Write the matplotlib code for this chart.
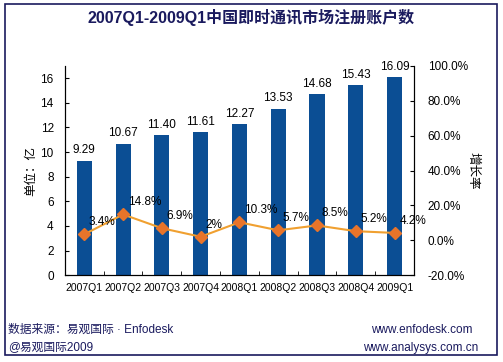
import matplotlib.pyplot as plt
import matplotlib.patches as patches
import numpy as np

plt.rcParams['font.family'] = ['Liberation Sans', 'Noto Sans CJK SC', 'DejaVu Sans']

quarters = ['2007Q1', '2007Q2', '2007Q3', '2007Q4', '2008Q1',
            '2008Q2', '2008Q3', '2008Q4', '2009Q1']
accounts = [9.29, 10.67, 11.40, 11.61, 12.27, 13.53, 14.68, 15.43, 16.09]
growth = [3.4, 14.8, 6.9, 2.0, 10.3, 5.7, 8.5, 5.2, 4.2]
growth_labels = ['3.4%', '14.8%', '6.9%', '2%', '10.3%', '5.7%', '8.5%', '5.2%', '4.2%']

fig = plt.figure(figsize=(5.03, 3.62), dpi=100)
ax = fig.add_axes([0.129, 0.240, 0.694, 0.578])
x = np.arange(len(quarters))

ax.bar(x, accounts, width=0.39, color='#0B4E94', zorder=2)
for xi, v in zip(x, accounts):
    ax.text(xi, v + 0.35, f'{v:.2f}', ha='center', va='bottom', fontsize=8.5)
ax.set_xlim(-0.5, len(quarters) - 0.5)
ax.set_ylim(0, 17)
ax.set_yticks(range(0, 17, 2))
ax.set_xticks(x)
ax.set_xticklabels(quarters, fontsize=7.5)
ax.set_xticks(np.arange(-0.5, len(quarters), 1), minor=True)
ax.tick_params(axis='x', which='major', length=0, pad=6)
ax.tick_params(axis='x', which='minor', direction='in', length=3)
ax.tick_params(axis='y', direction='in', length=3, labelsize=8.5, pad=8)
ax.set_ylabel('单位：亿', fontsize=9, labelpad=2)
ax.spines['top'].set_visible(False)

ax2 = ax.twinx()
ax2.plot(x, growth, color='#F0A030', lw=1.5, marker='D', markersize=6,
         markerfacecolor='#E8742A', markeredgecolor='#E8742A', zorder=3)
for xi, v, lab in zip(x, growth, growth_labels):
    ax2.text(xi + 0.12, v + 7, lab, ha='left', va='center', fontsize=8.5)
ax2.set_ylim(-20, 100)
ax2.set_yticks(range(-20, 101, 20))
ax2.set_yticklabels([f'{t:.1f}%' for t in range(-20, 101, 20)], fontsize=8.5)
ax2.tick_params(axis='y', direction='in', length=3, pad=10)
ax2.set_ylabel('增长率', fontsize=9, rotation=-90, labelpad=8)
ax2.spines['top'].set_visible(False)

fig.text(0.5, 0.953, '2007Q1-2009Q1中国即时通讯市场注册账户数', ha='center', va='center',
         fontsize=11.5, fontweight='bold', color='#1A1A5E')
fig.text(0.016, 0.088, '数据来源：易观国际 · Enfodesk', fontsize=8.5, color='#1A1A5E', va='center')
fig.text(0.016, 0.040, '@易观国际2009', fontsize=8.5, color='#1A1A5E', va='center')
fig.text(0.94, 0.088, 'www.enfodesk.com', fontsize=8.5, color='#1A1A5E', va='center', ha='right')
fig.text(0.95, 0.040, 'www.analysys.com.cn', fontsize=8.5, color='#1A1A5E', va='center', ha='right')

fig.patches.append(patches.Rectangle((0.01, 0.019), 0.978, 0.97, transform=fig.transFigure,
                                     fill=False, edgecolor='#1A1A5E', lw=1.2))

fig.savefig('out.png', dpi=100)
